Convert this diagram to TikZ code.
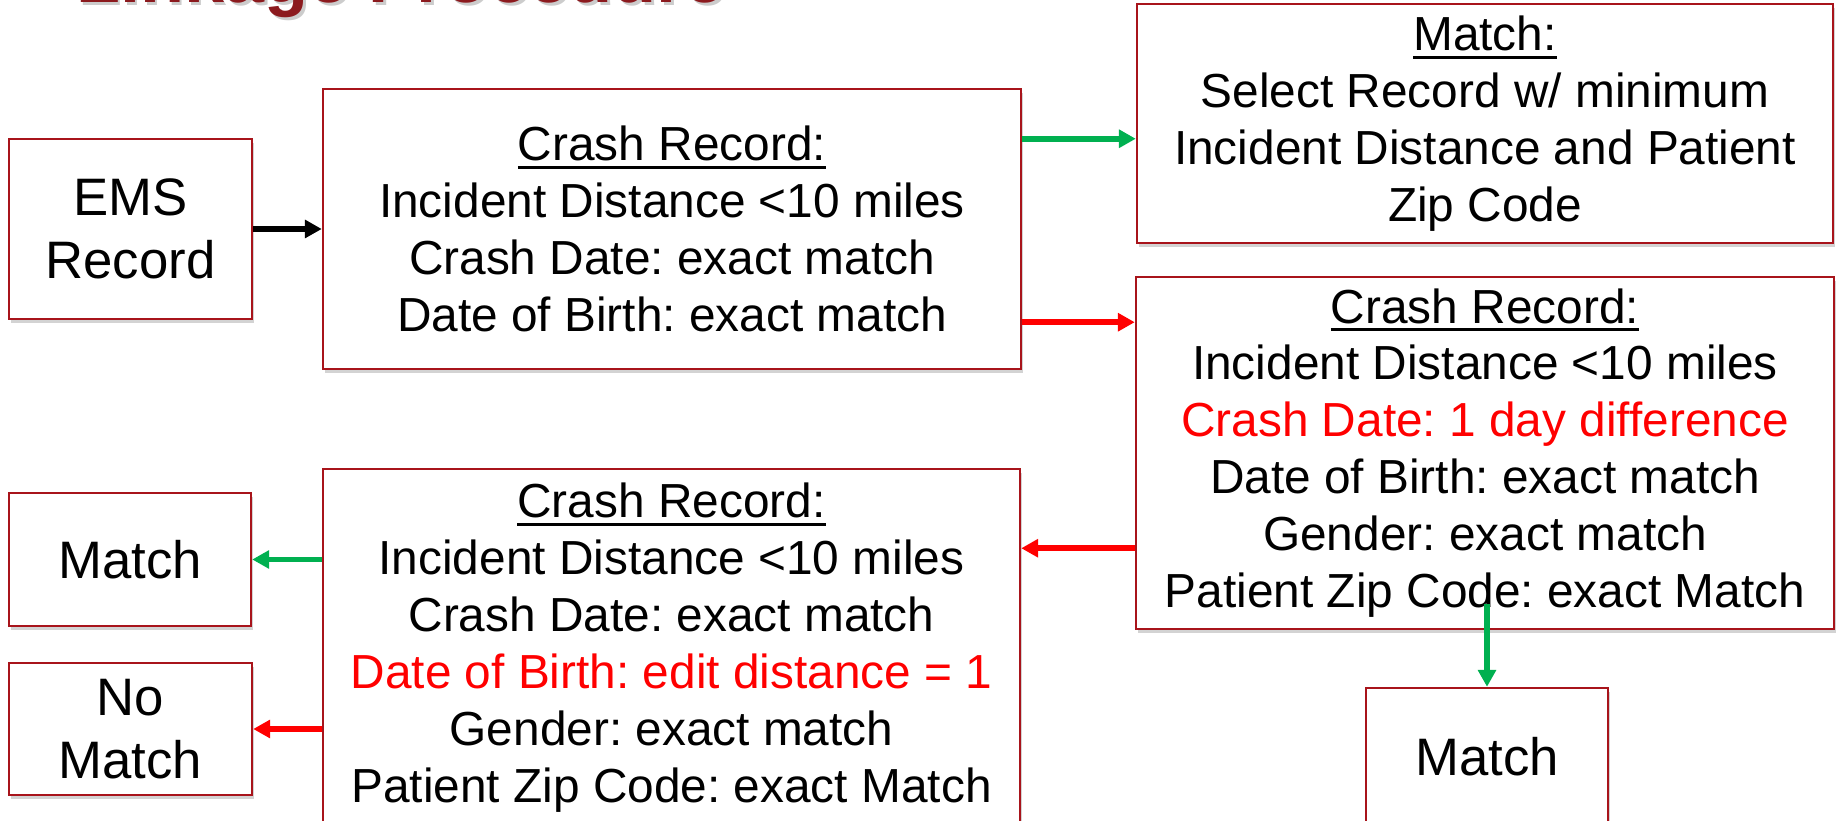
\documentclass[tikz,border=0pt]{standalone}
\usepackage{fontspec}
\setmainfont{Liberation Sans}
\usepackage{xcolor}
\usepackage{tikz}
\usetikzlibrary{arrows.meta,calc,positioning,shadows}
\definecolor{boxRed}{HTML}{A8141B}
\definecolor{titleRed}{HTML}{8C1A1E}
\definecolor{okGreen}{HTML}{00B050}
\definecolor{noRed}{HTML}{FF0000}
\newsavebox{\hdbox}
\newcommand{\hdr}[1]{\sbox{\hdbox}{#1}\rlap{\rule[-2.3pt]{\wd\hdbox}{0.75pt}}\usebox{\hdbox}}
\frenchspacing

\begin{document}
\begin{tikzpicture}[every node/.style={font=\fontsize{13.6}{16.2}\selectfont,align=center},
  rec/.style={draw=boxRed,line width=0.7pt,fill=white,inner sep=0pt,drop shadow={shadow xshift=0.6pt,shadow yshift=-1.1pt,opacity=0.35}},
  small/.style={rec,font=\fontsize{15}{17.8}\selectfont},
  arr/.style={line width=1.6pt,-{Triangle[length=4.8pt,width=5pt]}}]
\path[use as bounding box,clip] (0,-8.21) rectangle (18.37,0);
% title, cut by the top edge
\node[anchor=base west,font=\bfseries\fontsize{20.5}{24}\selectfont,text=black!40,opacity=0.5] (titleShadow) at (0.665,-0.055) {Linkage Procedure};
\node[anchor=base west,font=\bfseries\fontsize{20.5}{24}\selectfont,text=titleRed] (title) at (0.64,-0.03) {Linkage Procedure};
\node[small,minimum width=2.43cm,minimum height=1.80cm] (ems) at (1.305,-2.29) {EMS\\Record};
\node[rec,minimum width=6.98cm,minimum height=2.80cm] (rec1) at (6.72,-2.29) {\hdr{Crash Record:}\\Incident Distance <10 miles\\Crash Date: exact match\\Date of Birth: exact match};
\node[rec,minimum width=6.96cm,minimum height=2.39cm] (selm) at (14.85,-1.235) {\hdr{Match:}\\Select Record w/ minimum\\Incident Distance and Patient\\Zip Code};
\node[rec,minimum width=6.98cm,minimum height=3.52cm] (rec2) at (14.85,-4.53) {\hdr{Crash Record:}\\Incident Distance <10 miles\\\textcolor{noRed}{Crash Date: 1 day difference}\\Date of Birth: exact match\\Gender: exact match\\Patient Zip Code: exact Match};
\node[rec,minimum width=6.97cm,minimum height=3.57cm] (rec3) at (6.715,-6.475) {\hdr{Crash Record:}\\Incident Distance <10 miles\\Crash Date: exact match\\\textcolor{noRed}{Date of Birth: edit distance = 1}\\Gender: exact match\\Patient Zip Code: exact Match};
\node[small,minimum width=2.42cm,minimum height=1.33cm] (mL) at (1.30,-5.595) {Match};
\node[small,minimum width=2.43cm,minimum height=1.32cm] (noM) at (1.305,-7.29) {No\\Match};
\node[small,minimum width=2.42cm,minimum height=1.38cm] (mB) at (14.87,-7.57) {Match};
% connectors
\draw[arr] (ems.east) -- (rec1.west);
\coordinate (gTop) at ($(rec1.north east)+(0,-0.51)$);
\draw[arr,okGreen] (gTop) -- (selm.west |- gTop);
\coordinate (rTop) at ($(rec1.south east)+(0,0.48)$);
\draw[arr,noRed] (rTop) -- (rec2.west |- rTop);
\coordinate (rMid) at ($(rec2.south west)+(0,0.82)$);
\draw[arr,noRed] (rMid) -- (rec3.east |- rMid);
\draw[arr,okGreen] (rec3.west |- mL) -- (mL.east);
\draw[arr,noRed] (rec3.west |- noM) -- (noM.east);
\coordinate (zipPt) at ($(rec2.south -| mB)+(0,0.26)$);
\draw[arr,okGreen] (zipPt) -- (mB.north);
\end{tikzpicture}
\end{document}
